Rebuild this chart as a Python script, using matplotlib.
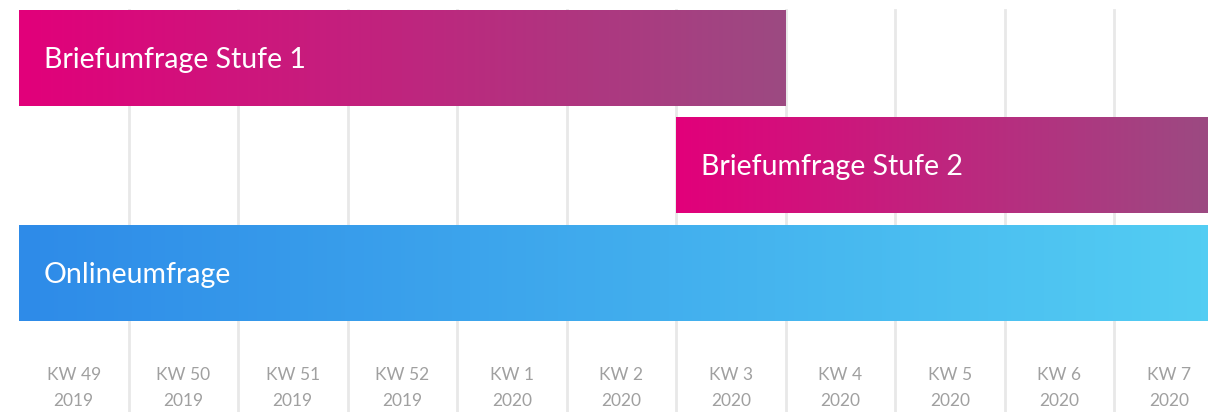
import numpy as np
import matplotlib.pyplot as plt
from matplotlib.colors import LinearSegmentedColormap

plt.rcParams['font.family'] = ['Lato', 'DejaVu Sans']

weeks = ["KW 49", "KW 50", "KW 51", "KW 52", "KW 1", "KW 2",
         "KW 3", "KW 4", "KW 5", "KW 6", "KW 7"]
years = ["2019", "2019", "2019", "2019", "2020", "2020",
         "2020", "2020", "2020", "2020", "2020"]

tasks = ["Briefumfrage Stufe 1", "Briefumfrage Stufe 2", "Onlineumfrage"]
starts = [0, 6, 0]      # week index where phase begins
ends = [7, 11, 11]      # week index where phase ends (exclusive)
grad_colors = [("#e2007a", "#9c4a82"),
               ("#e2007a", "#9c4a82"),
               ("#2e8be8", "#53cdf3")]

fig = plt.figure(figsize=(12.08, 4.12), dpi=100)
ax = fig.add_axes([0, 0, 1, 1])

col_w = 109.5
xmin = -19 / col_w
xmax = (1208 - 19) / col_w
pitch = 107.5
ytop = -58 / pitch
ybot = (412 - 58) / pitch
bar_h = 96 / pitch

# vertical grid lines between weeks
for i in range(1, len(weeks)):
    ax.plot([i, i], [-bar_h / 2, ybot], color="#e8e8e8", lw=2, zorder=1)

# gradient bars
for row, (name, s, e, (c0, c1)) in enumerate(zip(tasks, starts, ends, grad_colors)):
    e = min(e, xmax)
    cmap = LinearSegmentedColormap.from_list(name, [c0, c1])
    grad = np.linspace(0, 1, 256).reshape(1, -1)
    ax.imshow(grad, cmap=cmap, aspect="auto", interpolation="bilinear",
              extent=[s, e, row + bar_h / 2, row - bar_h / 2], zorder=2)
    ax.annotate(name, xy=(s, row), xytext=(25, -2), textcoords="offset pixels",
                color="white", fontsize=20.5, va="center", ha="left", zorder=3)

# week labels along the bottom
for i, (w, y) in enumerate(zip(weeks, years)):
    ax.text(i + 0.5, 2 + bar_h / 2 + 54 / pitch, w, ha="center", va="center",
            color="#a0a0a0", fontsize=12.5)
    ax.text(i + 0.5, 2 + bar_h / 2 + 80 / pitch, y, ha="center", va="center",
            color="#a0a0a0", fontsize=12.5)

ax.set_xlim(xmin, xmax)
ax.set_ylim(ybot, ytop)
ax.axis("off")

fig.savefig("out.png", dpi=100)
